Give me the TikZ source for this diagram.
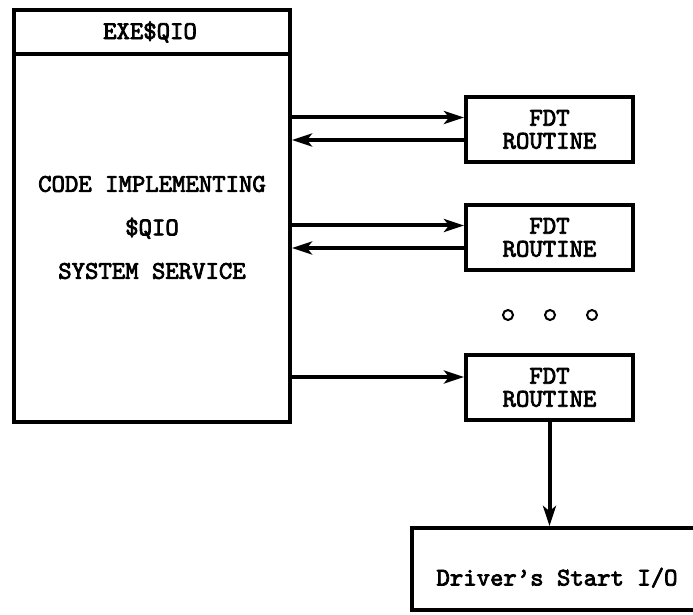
\documentclass[tikz,border=0pt]{standalone}
\usepackage{fontspec}
\newfontfamily\courier{lmmono10-regular.otf}[FakeBold=3]
\usetikzlibrary{positioning,arrows.meta}

\begin{document}
\begin{tikzpicture}[x=1pt,y=1pt,
  box/.style={draw,line width=4pt,inner sep=0pt,align=center,
              font=\courier\fontsize{25.5}{23}\selectfont},
  fdt/.style={box,minimum width=167pt,minimum height=65pt},
  dot/.style={draw,circle,line width=2pt,minimum size=10pt,inner sep=0pt},
  arr/.style={-{Stealth[length=20pt,width=13pt,inset=5pt]},line width=4pt}]
\useasboundingbox (0,0) rectangle (693,-614);
\node[box,minimum width=276pt,minimum height=44pt,anchor=north west] (title) at (12,-8) {};
\node[box,minimum width=276pt,minimum height=368pt,below=-4pt of title] (main) {};
\node[font=\courier\fontsize{25.5}{23}\selectfont,anchor=base] (name) at (150,-39) {EXE\$QIO};
\node[align=center,font=\courier\fontsize{25.5}{43.5}\selectfont] (code) at (152,-227.5)
  {CODE IMPLEMENTING\\\$QIO\\SYSTEM SERVICE};
\node[fdt] (fdt1) at (549.5,-129.5) {FDT\\ROUTINE};
\node[fdt,below=39pt of fdt1] (fdt2) {FDT\\ROUTINE};
\node[fdt,below=81pt of fdt2] (fdt3) {FDT\\ROUTINE};
\foreach \i/\x in {1/508,2/550,3/592}
  \node[dot] (dot\i) at (\x,-315) {};
\node[box,minimum width=290pt,minimum height=82pt,text height=33pt,text depth=0pt] (drv) at (557,-569) {Driver’s Start I/O};
\draw[arr] (fdt1.172 -| main.east) -- (fdt1.172); \draw[arr] (fdt1.187) -- (fdt1.187 -| main.east);
\draw[arr] (fdt2.172 -| main.east) -- (fdt2.172); \draw[arr] (fdt2.187) -- (fdt2.187 -| main.east);
\draw[arr] (fdt3.173 -| main.east) -- (fdt3.173);
\draw[arr] (fdt3.south) -- (fdt3.south |- drv.north);
\end{tikzpicture}
\end{document}
